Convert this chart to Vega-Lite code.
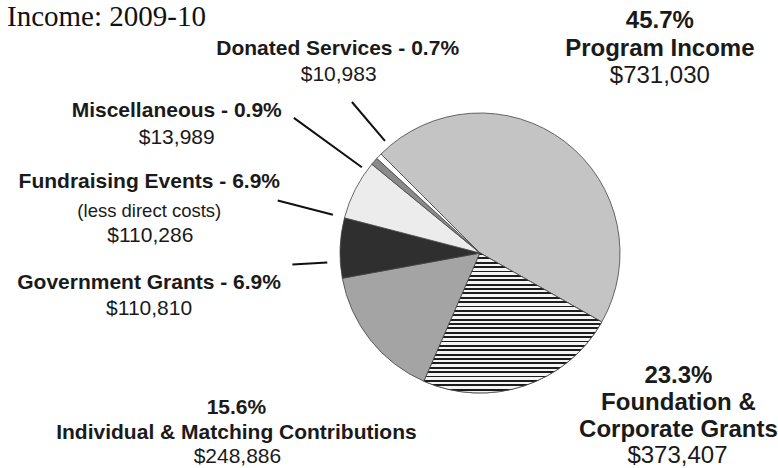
{
  "$schema": "https://vega.github.io/schema/vega-lite/v6.json",
  "width": 596,
  "height": 430,
  "autosize": {"type": "none"},
  "padding": {"left": 182, "top": 38, "right": 0, "bottom": 0},
  "background": "white",
  "title": {"text": "Income: 2009-10", "anchor": "start", "frame": "group", "font": "Liberation Serif", "fontSize": 29, "fontWeight": "normal", "color": "#111111", "baseline": "alphabetic", "offset": 0, "dx": -175, "dy": 46},
  "config": {"view": {"stroke": null}},
  "data": {"values": [
    {"category": "Program Income", "amount": 731030, "share": 45.7, "order": 1, "note": ""},
    {"category": "Foundation & Corporate Grants", "amount": 373407, "share": 23.3, "order": 2, "note": ""},
    {"category": "Individual & Matching Contributions", "amount": 248886, "share": 15.6, "order": 3, "note": ""},
    {"category": "Government Grants", "amount": 110810, "share": 6.9, "order": 4, "note": ""},
    {"category": "Fundraising Events", "amount": 110286, "share": 6.9, "order": 5, "note": "(less direct costs)"},
    {"category": "Miscellaneous", "amount": 13989, "share": 0.9, "order": 6, "note": ""},
    {"category": "Donated Services", "amount": 10983, "share": 0.7, "order": 7, "note": ""}
  ]},
  "transform": [
    {"window": [{"op": "sum", "field": "amount", "as": "cum"}], "sort": [{"field": "order"}], "frame": [null, 0]},
    {"calculate": "datum.cum - datum.amount", "as": "start"},
    {"calculate": "datum.cum - datum.amount / 2", "as": "mid"},
    {"calculate": "format(datum.share, '.1f') + '%'", "as": "pct"}
  ],
  "layer": [
    {
      "mark": {"type": "arc", "outerRadius": 140, "stroke": "#444444", "strokeWidth": 0.8},
      "encoding": {
        "theta": {"field": "start", "type": "quantitative", "stack": null, "scale": {"domain": [0, 1599391], "range": [5.49779, 11.78097]}},
        "theta2": {"field": "cum"},
        "color": {"field": "category", "type": "nominal", "legend": null,
          "scale": {"domain": ["Program Income", "Foundation & Corporate Grants", "Individual & Matching Contributions", "Government Grants", "Fundraising Events", "Miscellaneous", "Donated Services"],
                    "range": ["#c4c4c4", "#8c8c8c", "#a4a4a4", "#2f2f2f", "#ececec", "#8a8a8a", "#ffffff"]}}
      }
    },
    {
      "transform": [{"filter": "datum.category === 'Foundation & Corporate Grants'"}],
      "mark": {"type": "arc", "outerRadius": 140, "stroke": "#444444", "strokeWidth": 0.8,
        "fill": {"gradient": "linear", "x1": 0, "y1": 0, "x2": 0, "y2": 1, "stops": [
          {"offset": 0, "color": "#1c1c1c"}, {"offset": 0.0140625, "color": "#1c1c1c"}, {"offset": 0.0140625, "color": "#f4f4f4"}, {"offset": 0.03125, "color": "#f4f4f4"},
          {"offset": 0.03125, "color": "#1c1c1c"}, {"offset": 0.0453125, "color": "#1c1c1c"}, {"offset": 0.0453125, "color": "#f4f4f4"}, {"offset": 0.0625, "color": "#f4f4f4"},
          {"offset": 0.0625, "color": "#1c1c1c"}, {"offset": 0.0765625, "color": "#1c1c1c"}, {"offset": 0.0765625, "color": "#f4f4f4"}, {"offset": 0.09375, "color": "#f4f4f4"},
          {"offset": 0.09375, "color": "#1c1c1c"}, {"offset": 0.1078125, "color": "#1c1c1c"}, {"offset": 0.1078125, "color": "#f4f4f4"}, {"offset": 0.125, "color": "#f4f4f4"},
          {"offset": 0.125, "color": "#1c1c1c"}, {"offset": 0.1390625, "color": "#1c1c1c"}, {"offset": 0.1390625, "color": "#f4f4f4"}, {"offset": 0.15625, "color": "#f4f4f4"},
          {"offset": 0.15625, "color": "#1c1c1c"}, {"offset": 0.1703125, "color": "#1c1c1c"}, {"offset": 0.1703125, "color": "#f4f4f4"}, {"offset": 0.1875, "color": "#f4f4f4"},
          {"offset": 0.1875, "color": "#1c1c1c"}, {"offset": 0.2015625, "color": "#1c1c1c"}, {"offset": 0.2015625, "color": "#f4f4f4"}, {"offset": 0.21875, "color": "#f4f4f4"},
          {"offset": 0.21875, "color": "#1c1c1c"}, {"offset": 0.2328125, "color": "#1c1c1c"}, {"offset": 0.2328125, "color": "#f4f4f4"}, {"offset": 0.25, "color": "#f4f4f4"},
          {"offset": 0.25, "color": "#1c1c1c"}, {"offset": 0.2640625, "color": "#1c1c1c"}, {"offset": 0.2640625, "color": "#f4f4f4"}, {"offset": 0.28125, "color": "#f4f4f4"},
          {"offset": 0.28125, "color": "#1c1c1c"}, {"offset": 0.2953125, "color": "#1c1c1c"}, {"offset": 0.2953125, "color": "#f4f4f4"}, {"offset": 0.3125, "color": "#f4f4f4"},
          {"offset": 0.3125, "color": "#1c1c1c"}, {"offset": 0.3265625, "color": "#1c1c1c"}, {"offset": 0.3265625, "color": "#f4f4f4"}, {"offset": 0.34375, "color": "#f4f4f4"},
          {"offset": 0.34375, "color": "#1c1c1c"}, {"offset": 0.3578125, "color": "#1c1c1c"}, {"offset": 0.3578125, "color": "#f4f4f4"}, {"offset": 0.375, "color": "#f4f4f4"},
          {"offset": 0.375, "color": "#1c1c1c"}, {"offset": 0.3890625, "color": "#1c1c1c"}, {"offset": 0.3890625, "color": "#f4f4f4"}, {"offset": 0.40625, "color": "#f4f4f4"},
          {"offset": 0.40625, "color": "#1c1c1c"}, {"offset": 0.4203125, "color": "#1c1c1c"}, {"offset": 0.4203125, "color": "#f4f4f4"}, {"offset": 0.4375, "color": "#f4f4f4"},
          {"offset": 0.4375, "color": "#1c1c1c"}, {"offset": 0.4515625, "color": "#1c1c1c"}, {"offset": 0.4515625, "color": "#f4f4f4"}, {"offset": 0.46875, "color": "#f4f4f4"},
          {"offset": 0.46875, "color": "#1c1c1c"}, {"offset": 0.4828125, "color": "#1c1c1c"}, {"offset": 0.4828125, "color": "#f4f4f4"}, {"offset": 0.5, "color": "#f4f4f4"},
          {"offset": 0.5, "color": "#1c1c1c"}, {"offset": 0.5140625, "color": "#1c1c1c"}, {"offset": 0.5140625, "color": "#f4f4f4"}, {"offset": 0.53125, "color": "#f4f4f4"},
          {"offset": 0.53125, "color": "#1c1c1c"}, {"offset": 0.5453125, "color": "#1c1c1c"}, {"offset": 0.5453125, "color": "#f4f4f4"}, {"offset": 0.5625, "color": "#f4f4f4"},
          {"offset": 0.5625, "color": "#1c1c1c"}, {"offset": 0.5765625, "color": "#1c1c1c"}, {"offset": 0.5765625, "color": "#f4f4f4"}, {"offset": 0.59375, "color": "#f4f4f4"},
          {"offset": 0.59375, "color": "#1c1c1c"}, {"offset": 0.6078125, "color": "#1c1c1c"}, {"offset": 0.6078125, "color": "#f4f4f4"}, {"offset": 0.625, "color": "#f4f4f4"},
          {"offset": 0.625, "color": "#1c1c1c"}, {"offset": 0.6390625, "color": "#1c1c1c"}, {"offset": 0.6390625, "color": "#f4f4f4"}, {"offset": 0.65625, "color": "#f4f4f4"},
          {"offset": 0.65625, "color": "#1c1c1c"}, {"offset": 0.6703125, "color": "#1c1c1c"}, {"offset": 0.6703125, "color": "#f4f4f4"}, {"offset": 0.6875, "color": "#f4f4f4"},
          {"offset": 0.6875, "color": "#1c1c1c"}, {"offset": 0.7015625, "color": "#1c1c1c"}, {"offset": 0.7015625, "color": "#f4f4f4"}, {"offset": 0.71875, "color": "#f4f4f4"},
          {"offset": 0.71875, "color": "#1c1c1c"}, {"offset": 0.7328125, "color": "#1c1c1c"}, {"offset": 0.7328125, "color": "#f4f4f4"}, {"offset": 0.75, "color": "#f4f4f4"},
          {"offset": 0.75, "color": "#1c1c1c"}, {"offset": 0.7640625, "color": "#1c1c1c"}, {"offset": 0.7640625, "color": "#f4f4f4"}, {"offset": 0.78125, "color": "#f4f4f4"},
          {"offset": 0.78125, "color": "#1c1c1c"}, {"offset": 0.7953125, "color": "#1c1c1c"}, {"offset": 0.7953125, "color": "#f4f4f4"}, {"offset": 0.8125, "color": "#f4f4f4"},
          {"offset": 0.8125, "color": "#1c1c1c"}, {"offset": 0.8265625, "color": "#1c1c1c"}, {"offset": 0.8265625, "color": "#f4f4f4"}, {"offset": 0.84375, "color": "#f4f4f4"},
          {"offset": 0.84375, "color": "#1c1c1c"}, {"offset": 0.8578125, "color": "#1c1c1c"}, {"offset": 0.8578125, "color": "#f4f4f4"}, {"offset": 0.875, "color": "#f4f4f4"},
          {"offset": 0.875, "color": "#1c1c1c"}, {"offset": 0.8890625, "color": "#1c1c1c"}, {"offset": 0.8890625, "color": "#f4f4f4"}, {"offset": 0.90625, "color": "#f4f4f4"},
          {"offset": 0.90625, "color": "#1c1c1c"}, {"offset": 0.9203125, "color": "#1c1c1c"}, {"offset": 0.9203125, "color": "#f4f4f4"}, {"offset": 0.9375, "color": "#f4f4f4"},
          {"offset": 0.9375, "color": "#1c1c1c"}, {"offset": 0.9515625, "color": "#1c1c1c"}, {"offset": 0.9515625, "color": "#f4f4f4"}, {"offset": 0.96875, "color": "#f4f4f4"},
          {"offset": 0.96875, "color": "#1c1c1c"}, {"offset": 0.9828125, "color": "#1c1c1c"}, {"offset": 0.9828125, "color": "#f4f4f4"}, {"offset": 1, "color": "#f4f4f4"}
        ]}},
      "encoding": {
        "theta": {"field": "start", "type": "quantitative", "stack": null},
        "theta2": {"field": "cum"}
      }
    },
    {
      "transform": [{"filter": "datum.category === 'Donated Services'"}],
      "mark": {"type": "arc", "innerRadius": 147, "outerRadius": 198, "thetaOffset": 0.082, "theta2Offset": 0.082, "filled": false, "color": "#111111", "strokeWidth": 2},
      "encoding": {"theta": {"field": "cum", "type": "quantitative", "stack": null}, "theta2": {"field": "cum"}}
    },
    {
      "transform": [{"filter": "datum.category === 'Miscellaneous'"}],
      "mark": {"type": "arc", "innerRadius": 146, "outerRadius": 230, "thetaOffset": -0.087, "theta2Offset": -0.087, "filled": false, "color": "#111111", "strokeWidth": 2},
      "encoding": {"theta": {"field": "mid", "type": "quantitative", "stack": null}, "theta2": {"field": "mid"}}
    },
    {
      "transform": [{"filter": "datum.category === 'Fundraising Events'"}],
      "mark": {"type": "arc", "innerRadius": 152, "outerRadius": 209, "filled": false, "color": "#111111", "strokeWidth": 2},
      "encoding": {"theta": {"field": "start", "type": "quantitative", "stack": null}, "theta2": {"field": "start"}}
    },
    {
      "transform": [{"filter": "datum.category === 'Government Grants'"}],
      "mark": {"type": "arc", "innerRadius": 153, "outerRadius": 188, "thetaOffset": -0.098, "theta2Offset": -0.098, "filled": false, "color": "#111111", "strokeWidth": 2},
      "encoding": {"theta": {"field": "mid", "type": "quantitative", "stack": null}, "theta2": {"field": "mid"}}
    },
    {
      "transform": [{"filter": "datum.category === 'Program Income'"}, {"calculate": "datum.pct + '\\n' + datum.category", "as": "head"}],
      "mark": {"type": "text", "radius": 150, "dx": 89, "dy": -106, "align": "center", "baseline": "alphabetic", "font": "Liberation Sans", "fontSize": 24, "fontWeight": "bold", "lineBreak": "\n", "lineHeight": 28, "color": "#1a1a1a"},
      "encoding": {"theta": {"field": "mid", "type": "quantitative", "stack": null}, "text": {"field": "head", "type": "nominal"}}
    },
    {
      "transform": [{"filter": "datum.category === 'Program Income'"}],
      "mark": {"type": "text", "radius": 150, "dx": 89, "dy": -51, "align": "center", "baseline": "alphabetic", "font": "Liberation Sans", "fontSize": 24, "color": "#1a1a1a"},
      "encoding": {"theta": {"field": "mid", "type": "quantitative", "stack": null}, "text": {"field": "amount", "type": "quantitative", "format": "$,.0f"}}
    },
    {
      "transform": [{"filter": "datum.category === 'Foundation & Corporate Grants'"}, {"calculate": "datum.pct + '\\n' + replace(datum.category, ' Corporate', '\\nCorporate')", "as": "head"}],
      "mark": {"type": "text", "radius": 150, "dx": 151, "dy": -12, "align": "center", "baseline": "alphabetic", "font": "Liberation Sans", "fontSize": 24, "fontWeight": "bold", "lineBreak": "\n", "lineHeight": 27, "color": "#1a1a1a"},
      "encoding": {"theta": {"field": "mid", "type": "quantitative", "stack": null}, "text": {"field": "head", "type": "nominal"}}
    },
    {
      "transform": [{"filter": "datum.category === 'Foundation & Corporate Grants'"}],
      "mark": {"type": "text", "radius": 150, "dx": 150, "dy": 68, "align": "center", "baseline": "alphabetic", "font": "Liberation Sans", "fontSize": 24, "color": "#1a1a1a"},
      "encoding": {"theta": {"field": "mid", "type": "quantitative", "stack": null}, "text": {"field": "amount", "type": "quantitative", "format": "$,.0f"}}
    },
    {
      "transform": [{"filter": "datum.category === 'Individual & Matching Contributions'"}, {"calculate": "datum.pct + '\\n' + datum.category", "as": "head"}],
      "mark": {"type": "text", "radius": 150, "dx": -126, "dy": 68, "align": "center", "baseline": "alphabetic", "font": "Liberation Sans", "fontSize": 21, "fontWeight": "bold", "lineBreak": "\n", "lineHeight": 25, "color": "#1a1a1a"},
      "encoding": {"theta": {"field": "mid", "type": "quantitative", "stack": null}, "text": {"field": "head", "type": "nominal"}}
    },
    {
      "transform": [{"filter": "datum.category === 'Individual & Matching Contributions'"}],
      "mark": {"type": "text", "radius": 150, "dx": -125, "dy": 117, "align": "center", "baseline": "alphabetic", "font": "Liberation Sans", "fontSize": 21, "color": "#1a1a1a"},
      "encoding": {"theta": {"field": "mid", "type": "quantitative", "stack": null}, "text": {"field": "amount", "type": "quantitative", "format": "$,.0f"}}
    },
    {
      "transform": [{"filter": "datum.category === 'Government Grants'"}, {"calculate": "datum.category + ' - ' + datum.pct", "as": "head"}],
      "mark": {"type": "text", "radius": 150, "dx": -181, "dy": 41, "align": "center", "baseline": "alphabetic", "font": "Liberation Sans", "fontSize": 21, "fontWeight": "bold", "color": "#1a1a1a"},
      "encoding": {"theta": {"field": "mid", "type": "quantitative", "stack": null}, "text": {"field": "head", "type": "nominal"}}
    },
    {
      "transform": [{"filter": "datum.category === 'Government Grants'"}],
      "mark": {"type": "text", "radius": 150, "dx": -181, "dy": 67, "align": "center", "baseline": "alphabetic", "font": "Liberation Sans", "fontSize": 21, "color": "#1a1a1a"},
      "encoding": {"theta": {"field": "mid", "type": "quantitative", "stack": null}, "text": {"field": "amount", "type": "quantitative", "format": "$,.0f"}}
    },
    {
      "transform": [{"filter": "datum.category === 'Fundraising Events'"}, {"calculate": "datum.category + ' - ' + datum.pct", "as": "head"}],
      "mark": {"type": "text", "radius": 150, "dx": -197, "dy": 3, "align": "center", "baseline": "alphabetic", "font": "Liberation Sans", "fontSize": 21, "fontWeight": "bold", "color": "#1a1a1a"},
      "encoding": {"theta": {"field": "mid", "type": "quantitative", "stack": null}, "text": {"field": "head", "type": "nominal"}}
    },
    {
      "transform": [{"filter": "datum.category === 'Fundraising Events'"}],
      "mark": {"type": "text", "radius": 150, "dx": -197, "dy": 32, "align": "center", "baseline": "alphabetic", "font": "Liberation Sans", "fontSize": 18.5, "color": "#1a1a1a"},
      "encoding": {"theta": {"field": "mid", "type": "quantitative", "stack": null}, "text": {"field": "note", "type": "nominal"}}
    },
    {
      "transform": [{"filter": "datum.category === 'Fundraising Events'"}],
      "mark": {"type": "text", "radius": 150, "dx": -196, "dy": 57, "align": "center", "baseline": "alphabetic", "font": "Liberation Sans", "fontSize": 21, "color": "#1a1a1a"},
      "encoding": {"theta": {"field": "mid", "type": "quantitative", "stack": null}, "text": {"field": "amount", "type": "quantitative", "format": "$,.0f"}}
    },
    {
      "transform": [{"filter": "datum.category === 'Miscellaneous'"}, {"calculate": "datum.category + ' - ' + datum.pct", "as": "head"}],
      "mark": {"type": "text", "radius": 150, "dx": -190, "dy": -38, "align": "center", "baseline": "alphabetic", "font": "Liberation Sans", "fontSize": 21, "fontWeight": "bold", "color": "#1a1a1a"},
      "encoding": {"theta": {"field": "mid", "type": "quantitative", "stack": null}, "text": {"field": "head", "type": "nominal"}}
    },
    {
      "transform": [{"filter": "datum.category === 'Miscellaneous'"}],
      "mark": {"type": "text", "radius": 150, "dx": -190, "dy": -11, "align": "center", "baseline": "alphabetic", "font": "Liberation Sans", "fontSize": 21, "color": "#1a1a1a"},
      "encoding": {"theta": {"field": "mid", "type": "quantitative", "stack": null}, "text": {"field": "amount", "type": "quantitative", "format": "$,.0f"}}
    },
    {
      "transform": [{"filter": "datum.category === 'Donated Services'"}, {"calculate": "datum.category + ' - ' + datum.pct", "as": "head"}],
      "mark": {"type": "text", "radius": 150, "dx": -34, "dy": -94, "align": "center", "baseline": "alphabetic", "font": "Liberation Sans", "fontSize": 21, "fontWeight": "bold", "color": "#1a1a1a"},
      "encoding": {"theta": {"field": "mid", "type": "quantitative", "stack": null}, "text": {"field": "head", "type": "nominal"}}
    },
    {
      "transform": [{"filter": "datum.category === 'Donated Services'"}],
      "mark": {"type": "text", "radius": 150, "dx": -33, "dy": -68, "align": "center", "baseline": "alphabetic", "font": "Liberation Sans", "fontSize": 21, "color": "#1a1a1a"},
      "encoding": {"theta": {"field": "mid", "type": "quantitative", "stack": null}, "text": {"field": "amount", "type": "quantitative", "format": "$,.0f"}}
    }
  ]
}
